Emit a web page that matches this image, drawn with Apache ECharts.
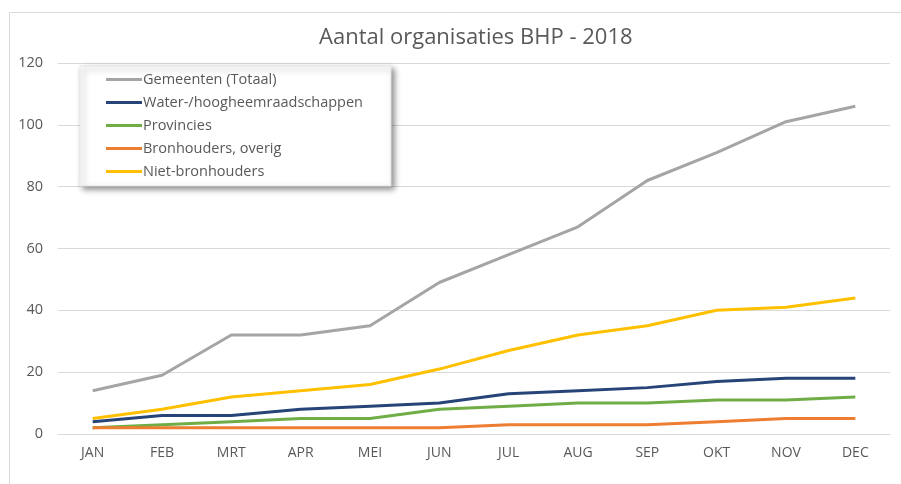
<!DOCTYPE html>
<html>
<head>
<meta charset="utf-8">
<script src="https://cdn.jsdelivr.net/npm/echarts@6/dist/echarts.min.js"></script>
<style>html,body{margin:0;padding:0;background:#fff}#c{width:901px;height:484px}</style>
</head>
<body>
<div id="c"></div>
<script>
var titleText = 'Aantal organisaties BHP - 2018';
var categories = ['JAN','FEB','MRT','APR','MEI','JUN','JUL','AUG','SEP','OKT','NOV','DEC'];
var yTicks = {min: 0, max: 120, interval: 20};
var seriesNames = ['Gemeenten (Totaal)','Water-/hoogheemraadschappen','Provincies','Bronhouders, overig','Niet-bronhouders'];
var gemeenten = [14,19,32,32,35,49,58,67,82,91,101,106];
var water = [4,6,6,8,9,10,13,14,15,17,18,18];
var provincies = [2,3,4,5,5,8,9,10,10,11,11,12];
var bronhoudersOverig = [2,2,2,2,2,2,3,3,3,4,5,5];
var nietBronhouders = [5,8,12,14,16,21,27,32,35,40,41,44];
var colors = ['#a5a5a5','#264478','#70ad47','#ed7d31','#ffc000'];

var dataSets = [gemeenten, water, provincies, bronhoudersOverig, nietBronhouders];
var font = '"Open Sans", "Liberation Sans", sans-serif';
var chart = echarts.init(document.getElementById('c'));
chart.setOption({
  animation: false,
  color: colors,
  title: {
    text: titleText, left: 314, top: 22,
    textStyle: {fontFamily: font, fontSize: 22, fontWeight: 'normal', color: '#595959'}
  },
  graphic: [{
    type: 'rect', left: 7, top: 10, z: -10, silent: true,
    shape: {width: 920, height: 500},
    style: {fill: 'none', stroke: '#d9d9d9', lineWidth: 1}
  }],
  legend: {
    orient: 'vertical', left: 80, top: 66,
    data: seriesNames,
    icon: 'rect', itemWidth: 36, itemHeight: 3, itemGap: 6,
    padding: [5, 28, 6, 26],
    backgroundColor: '#fff',
    borderColor: '#e6e6e6', borderWidth: 1,
    shadowBlur: 6, shadowColor: 'rgba(0,0,0,0.45)', shadowOffsetX: 3, shadowOffsetY: 3,
    textStyle: {fontFamily: font, fontSize: 14.5, color: '#595959', lineHeight: 17, padding: [0,0,0,-4]}
  },
  grid: {left: 58, right: 11, top: 63, bottom: 50, containLabel: false},
  xAxis: {
    type: 'category', data: categories, boundaryGap: true,
    axisLine: {lineStyle: {color: '#d9d9d9', width: 1}},
    axisTick: {show: false},
    axisLabel: {fontFamily: font, fontSize: 14, color: '#595959', margin: 12}
  },
  yAxis: {
    type: 'value', min: yTicks.min, max: yTicks.max, interval: yTicks.interval,
    axisLine: {show: false}, axisTick: {show: false},
    splitLine: {lineStyle: {color: '#d9d9d9', width: 1}},
    axisLabel: {fontFamily: font, fontSize: 14.5, color: '#595959', margin: 15}
  },
  series: seriesNames.map(function(n, i){
    return {
      name: n, type: 'line', data: dataSets[i],
      symbol: 'none', showSymbol: false,
      lineStyle: {width: 3, color: colors[i]},
      itemStyle: {color: colors[i]}
    };
  })
});
</script>
</body>
</html>
